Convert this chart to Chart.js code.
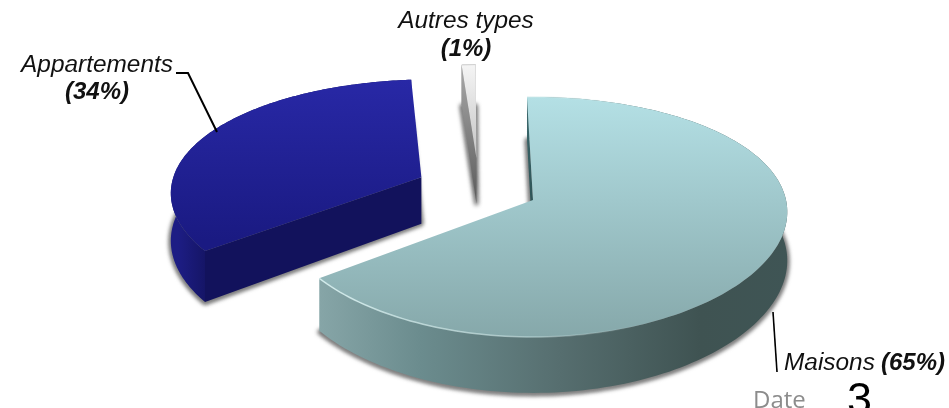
<!DOCTYPE html>
<html lang="fr">
<head>
<meta charset="utf-8">
<title>Types de logements</title>
<script src="https://cdn.jsdelivr.net/npm/chart.js@4/dist/chart.umd.min.js"></script>
<style>
  html, body { margin: 0; padding: 0; background: #fff; overflow: hidden; }
  #wrap { position: relative; width: 949px; height: 408px; }
</style>
</head>
<body>
<div id="wrap"><canvas id="pie"></canvas></div>
<script>
// data
const categories = ["Maisons", "Appartements", "Autres types"];
const shares = [65, 34, 1];

// look of the fake 3D pie
const view = { cx: 533, cy: 200, rx: 253, ry: 117.6, persp: 0.1416, perspX: 0.1, depth: 48 };
const explode = [[0, 0], [-0.45, -0.2], [-0.232, -0.376]]; // in pie radii
const faceStops = [
  [[97, "#b4e0e5"], [200, "#a0c8cc"], [337, "#86a8aa"]],
  [[79, "#2828a6"], [240, "#1a1a82"]],
  [[66, "#f4f4f4"], [158, "#c4c4c4"]]
];
const rimStops = [
  [[320, "#86a5a7"], [420, "#6b8c8e"], [560, "#566e6f"], [700, "#3f5352"], [790, "#3f5555"]],
  [[178, "#1d1d84"], [212, "#13135f"]],
  [[458, "#888888"], [478, "#888888"]]
];
const cutStops = [
  [[97, "#3c6a6e"], [200, "#2f5558"]],
  [[175, "#12125c"], [300, "#12125c"]],
  [[66, "#a8a8a8"], [205, "#5a5a5a"]]
];

function project(u, v, z) {
  const f = 1 / (1 - view.persp * v), fx = 1 / (1 - view.perspX * v);
  return [view.cx + view.rx * u * fx, view.cy + view.ry * v * f + z * f];
}

function ramp(ctx, stops, horizontal) {
  const a = stops[0][0], b = stops[stops.length - 1][0];
  const g = horizontal ? ctx.createLinearGradient(a, 0, b, 0) : ctx.createLinearGradient(0, a, 0, b);
  stops.forEach(s => g.addColorStop((s[0] - a) / (b - a), s[1]));
  return g;
}

function trace(ctx, pts) {
  ctx.beginPath();
  pts.forEach((p, i) => i ? ctx.lineTo(p[0], p[1]) : ctx.moveTo(p[0], p[1]));
  ctx.closePath();
}

function arcPoints(arc, off, z) {
  const pts = [], n = 160;
  for (let i = 0; i <= n; i++) {
    const a = arc.startAngle + (arc.endAngle - arc.startAngle) * i / n;
    pts.push(project(Math.cos(a) + off[0], Math.sin(a) + off[1], z));
  }
  return pts;
}

function drawSlice(ctx, arc, i) {
  const off = explode[i];
  const apexTop = project(off[0], off[1], 0);
  const apexLow = project(off[0], off[1], view.depth);
  const top = arcPoints(arc, off, 0);
  const low = arcPoints(arc, off, view.depth);

  // soft shadow under the slice
  ctx.save();
  ctx.filter = "blur(2px)";
  ctx.fillStyle = ctx.strokeStyle = "#6e6e6e";
  ctx.lineWidth = 4;
  ctx.lineJoin = "round";
  trace(ctx, [apexLow].concat(low.map(p => [p[0], p[1] + 1])));
  ctx.fill();
  ctx.stroke();
  ctx.restore();

  // outer rim
  trace(ctx, top.concat(low.slice().reverse()));
  ctx.fillStyle = ramp(ctx, rimStops[i], true);
  ctx.fill();

  // the cut side that faces us, the other one stays behind the top face
  ctx.fillStyle = ramp(ctx, cutStops[i], false);
  trace(ctx, [apexTop, top[0], low[0], apexLow]);
  ctx.fill();

  // top face
  trace(ctx, [apexTop].concat(top));
  ctx.fillStyle = ramp(ctx, faceStops[i], false);
  ctx.fill();

  // small bevel on the front edge of the big slice
  if (i === 0) {
    const g = ctx.createLinearGradient(320, 0, 640, 0);
    g.addColorStop(0, "rgba(214,238,238,.9)");
    g.addColorStop(0.6, "rgba(205,232,232,.6)");
    g.addColorStop(1, "rgba(205,232,232,0)");
    ctx.strokeStyle = g;
    ctx.lineWidth = 1.5;
    ctx.beginPath();
    top.forEach((p, k) => k ? ctx.lineTo(p[0], p[1]) : ctx.moveTo(p[0], p[1]));
    ctx.stroke();
  }
  if (i === 2) {
    ctx.strokeStyle = "#d0d0d0";
    ctx.lineWidth = 1;
    ctx.beginPath();
    ctx.moveTo(top[0][0], top[0][1]);
    ctx.lineTo(top[top.length - 1][0], top[top.length - 1][1]);
    ctx.stroke();
  }
}

function line(ctx, pts, w) {
  ctx.strokeStyle = "#000";
  ctx.lineWidth = w;
  ctx.lineJoin = "miter";
  ctx.beginPath();
  pts.forEach((p, i) => i ? ctx.lineTo(p[0], p[1]) : ctx.moveTo(p[0], p[1]));
  ctx.stroke();
}

function drawLabels(ctx) {
  const reg = 'italic 24.4px "Liberation Sans"', bold = 'italic bold 24px "Liberation Sans"';
  ctx.filter = "blur(0.35px)";
  ctx.fillStyle = "#111";
  ctx.textBaseline = "alphabetic";

  ctx.font = reg; ctx.textAlign = "center";
  ctx.fillText(categories[2], 466, 28);
  ctx.fillText(categories[1], 97, 72);
  ctx.font = bold;
  ctx.fillText("(" + shares[2] + "%)", 466, 56);
  ctx.fillText("(" + shares[1] + "%)", 97, 99);

  ctx.textAlign = "left";
  ctx.font = reg;
  ctx.fillText(categories[0], 784, 370);
  ctx.font = bold;
  ctx.fillText("(" + shares[0] + "%)", 881, 370);

  ctx.fillStyle = "#8c8c8c";
  ctx.font = '24px "Open Sans"';
  ctx.fillText("Date", 753, 408);
  ctx.fillStyle = "#000";
  ctx.font = '45px "Liberation Sans"';
  ctx.fillText("3", 847, 414);
  ctx.filter = "none";

  line(ctx, [[176, 73], [188, 73], [217, 132]], 2);
  line(ctx, [[773, 312], [777, 372]], 1.6);
}

const pie3d = {
  id: "pie3d",
  beforeDatasetsDraw(chart) {
    const ctx = chart.ctx, arcs = chart.getDatasetMeta(0).data;
    ctx.save();
    [1, 2, 0].forEach(i => drawSlice(ctx, arcs[i], i));
    drawLabels(ctx);
    ctx.restore();
    return false;
  }
};

new Chart(document.getElementById("pie"), {
  type: "pie",
  data: { labels: categories, datasets: [{ data: shares }] },
  options: {
    responsive: true,
    maintainAspectRatio: false,
    animation: false,
    rotation: -1.5,
    plugins: { legend: { display: false }, tooltip: { enabled: false } }
  },
  plugins: [pie3d]
});
</script>
</body>
</html>
